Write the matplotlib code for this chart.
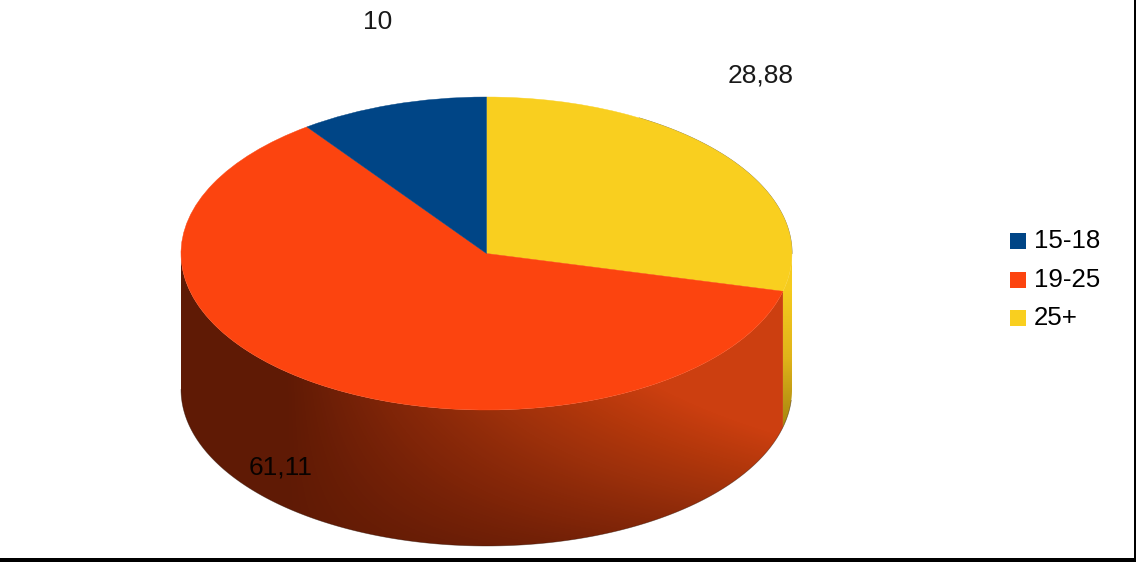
import numpy as np
import matplotlib
matplotlib.use('Agg')
import matplotlib.pyplot as plt
from matplotlib.patches import Wedge, Polygon, Rectangle
from matplotlib.transforms import Affine2D
from matplotlib.colors import LinearSegmentedColormap

plt.rcParams['font.family'] = ['Liberation Sans', 'DejaVu Sans']

# clockwise from the top of the pie
categories = ['25+', '19-25', '15-18']
values = [28.88, 61.11, 10]
value_labels = ['28,88', '61,11', '10']
colors = ['#f9cf1f', '#fc440f', '#004586']
legend_order = ['15-18', '19-25', '25+']

W, H = 1136, 562
fig = plt.figure(figsize=(W / 100, H / 100), dpi=100)
ax = fig.add_axes([0, 0, 1, 1])
ax.set_xlim(0, W)
ax.set_ylim(0, H)
ax.axis('off')

# pie geometry, in pixels
cx, cy = 486.5, H - 253.5
rx, ry = 305.5, 156.5
depth = 136

# slice angles from the values
fracs = np.array(values) / sum(values)
ends = 90 - 360 * np.cumsum(fracs)
starts = np.r_[90, ends[:-1]]


def side_poly(a1, a2):
    t = np.radians(np.linspace(a1, a2, 200))
    x = cx + rx * np.cos(t)
    y = cy + ry * np.sin(t)
    return np.r_[x, x[::-1]], np.r_[y, y[::-1] - depth]


# screen coordinates for the side shading
xx, yy = np.meshgrid(np.arange(W), np.arange(H) + 0.5)

# orange side wall, lit from the upper right
cmap_o = LinearSegmentedColormap.from_list('o', ['#5f1a05', '#802508', '#9c300b', '#b5380c', '#cc3f10'])
shade = np.clip((xx - 285) / 400, 0, None) * (1 - 0.8 * (yy - 400) / 146)
shade = np.clip(shade, 0, 1)
im = ax.imshow(shade, cmap=cmap_o, vmin=0, vmax=1, origin='upper',
               extent=[0, W, 0, H], aspect='auto', zorder=1, interpolation='bilinear')
sx, sy = side_poly(starts[1], -180)
orange_side = Polygon(np.c_[sx, sy], transform=ax.transData, fc='none', ec='none')
ax.add_patch(orange_side)
im.set_clip_path(orange_side)

# yellow sliver on the right
cmap_y = LinearSegmentedColormap.from_list('y', ['#f5cb1e', '#e0b41a', '#a8860f'])
im2 = ax.imshow(np.clip((yy - 290) / 135, 0, 1), cmap=cmap_y, vmin=0, vmax=1, origin='upper',
                extent=[0, W, 0, H], aspect='auto', zorder=1, interpolation='bilinear')
yx, yy2 = side_poly(0, starts[1])
yellow_side = Polygon(np.c_[yx, yy2], transform=ax.transData, fc='none', ec='none')
ax.add_patch(yellow_side)
im2.set_clip_path(yellow_side)
ax.set_xlim(0, W)
ax.set_ylim(0, H)

# top face
ell = Affine2D().scale(rx, ry).translate(cx, cy) + ax.transData
for s, e, c in zip(starts, ends, colors):
    ax.add_patch(Wedge((0, 0), 1, e, s, transform=ell, fc=c, ec=c, lw=0.3, zorder=2))

# dark fringe on the silhouette
t = np.radians(np.linspace(0, 60, 100))
ax.plot(cx + rx * np.cos(t), cy + ry * np.sin(t), color='#3a3010', lw=0.6, alpha=0.7, zorder=1.5)
t = np.radians(np.linspace(-4, -180, 200))
ax.plot(cx + rx * np.cos(t), cy + ry * np.sin(t) - depth, color='#2a1005', lw=0.5, alpha=0.5, zorder=1.5)

# value labels
label_pos = [(761, 75), (281, 468), (378, 22)]
for txt, (lx, ly) in zip(value_labels, label_pos):
    ax.text(lx, H - ly, txt, fontsize=19, ha='center', va='center', color='black', alpha=0.9, zorder=3)

# legend
legend_colors = dict(zip(categories, colors))
for name, ly in zip(legend_order, [241, 280, 318]):
    ax.add_patch(Rectangle((1010, H - ly - 8), 16, 16, fc=legend_colors[name], ec='none', zorder=3))
    ax.text(1034, H - ly, name, fontsize=18.6, ha='left', va='center', color='black', zorder=3)

# black edges of the screenshot
ax.add_patch(Rectangle((0, 0), W, 4, fc='black', ec='none', zorder=4))
ax.add_patch(Rectangle((W - 2, 0), 2, H, fc='black', ec='none', zorder=4))

fig.savefig('out.png', dpi=100, facecolor='white')
